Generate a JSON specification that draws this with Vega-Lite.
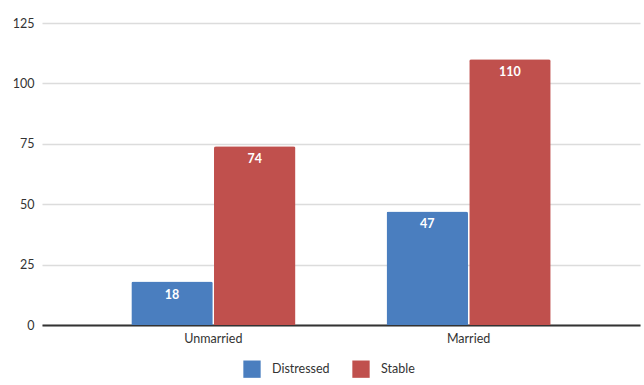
{
  "$schema": "https://vega.github.io/schema/vega-lite/v6.json",
  "autosize": "none",
  "width": 598,
  "height": 302,
  "padding": {"left": 42, "top": 23, "right": 4, "bottom": 60},
  "background": "white",
  "data": {"values": [
    {"group": "Unmarried", "status": "Distressed", "value": 18},
    {"group": "Unmarried", "status": "Stable", "value": 74},
    {"group": "Married", "status": "Distressed", "value": 47},
    {"group": "Married", "status": "Stable", "value": 110}
  ]},
  "encoding": {
    "x": {"field": "group", "type": "nominal", "sort": ["Unmarried", "Married"],
      "scale": {"paddingInner": 0.357, "paddingOuter": 0.35},
      "axis": {"title": null, "labelAngle": 0, "ticks": false, "domainColor": "#333333", "domainWidth": 2,
        "labelFont": "Lato", "labelFontSize": 12.5, "labelColor": "#333333", "labelPadding": 7, "grid": false}},
    "xOffset": {"field": "status", "type": "nominal", "sort": ["Distressed", "Stable"], "scale": {"paddingInner": 0.015}},
    "y": {"field": "value", "type": "quantitative", "scale": {"domain": [0, 125]},
      "axis": {"title": null, "values": [0, 25, 50, 75, 100, 125], "domain": false, "ticks": false,
        "gridColor": "#dcdcdc", "gridWidth": 1.5, "labelFont": "Lato", "labelFontSize": 12.5, "labelColor": "#333333", "labelPadding": 8}}
  },
  "layer": [
    {
      "mark": {"type": "bar", "cornerRadiusTopLeft": 2, "cornerRadiusTopRight": 2},
      "encoding": {
        "color": {"field": "status", "type": "nominal", "sort": ["Distressed", "Stable"],
          "scale": {"domain": ["Distressed", "Stable"], "range": ["#4a7ebf", "#c0504d"]},
          "legend": {"title": null, "orient": "none", "legendX": 201, "legendY": 337, "direction": "horizontal", "symbolType": "square",
            "symbolSize": 300, "symbolStrokeWidth": 0, "labelFont": "Lato", "labelFontSize": 12.5, "labelColor": "#333333",
            "labelOffset": 11, "columnPadding": 22}}
      }
    },
    {
      "mark": {"type": "text", "color": "white", "fontWeight": "bold", "font": "Lato", "fontSize": 12.5, "baseline": "middle", "dy": 13},
      "encoding": {"text": {"field": "value", "type": "quantitative"}}
    }
  ],
  "config": {"view": {"stroke": null}}
}
